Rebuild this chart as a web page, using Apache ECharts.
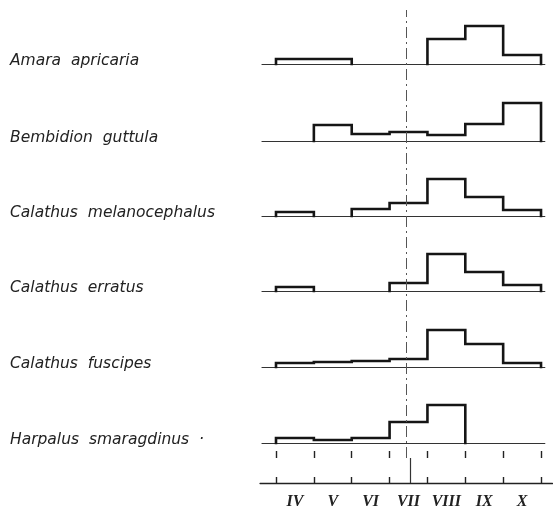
<!DOCTYPE html>
<html>
<head>
<meta charset="utf-8">
<script src="https://cdn.jsdelivr.net/npm/echarts@6/dist/echarts.min.js"></script>
<style>html,body{margin:0;padding:0;background:#fff}#c{width:553px;height:510px}</style>
</head>
<body>
<div id="c"></div>
<script>
// Month bins (April .. October)
const months = ['IV', 'V', 'VI', 'VII', 'VIII', 'IX', 'X'];
const species = ['Amara  apricaria', 'Bembidion  guttula', 'Calathus  melanocephalus',
                 'Calathus  erratus', 'Calathus  fuscipes', 'Harpalus  smaragdinus  ·'];
// Relative activity per month
const amara       = [5, 5, 0, 0, 25, 38, 9];
const bembidion   = [0, 16, 7, 9, 6, 17, 38];
const melanoceph  = [4, 0, 7, 13, 37, 19, 6];
const erratus     = [4, 0, 0, 8, 37, 19, 6];
const fuscipes    = [4, 5, 6, 8, 37, 23, 4];
const harpalus    = [5, 3, 5, 21, 38, 0, 0];
const refMonth = 3.45; // dashed reference line (mid July)

const rows = [amara, bembidion, melanoceph, erratus, fuscipes, harpalus];

// layout
const PX = 37.86, X0 = 276;
const baselines = [64, 141, 216, 291, 367, 443];
const rowMin = -0.37, rowMax = 7.1;
const botMin = -0.42, botMax = 7.3;
const H = 40;

// split a row into runs of non-zero months -> step outline points (data space)
function runs(vals) {
  const out = [];
  let cur = null;
  vals.forEach((v, i) => {
    if (v > 0) {
      if (!cur) { cur = [[i, 0]]; }
      cur.push([i, v], [i + 1, v]);
    } else if (cur) {
      cur.push([i, 0]); out.push(cur); cur = null;
    }
  });
  if (cur) { cur.push([vals.length, 0]); out.push(cur); }
  return out;
}

const grids = [], xAxes = [], yAxes = [], series = [], graphics = [];
rows.forEach((vals, r) => {
  grids.push({left: X0 + rowMin * PX, width: (rowMax - rowMin) * PX, top: baselines[r] - H, height: H});
  xAxes.push({type: 'value', gridIndex: r, min: rowMin, max: rowMax,
    axisLine: {show: true, onZero: false, lineStyle: {color: '#333', width: 1.2}},
    axisTick: {show: false}, axisLabel: {show: false}, splitLine: {show: false}});
  yAxes.push({type: 'value', gridIndex: r, min: 0, max: H, show: false, splitLine: {show: false}});
  const rr = runs(vals);
  series.push({type: 'custom', xAxisIndex: r, yAxisIndex: r, coordinateSystem: 'cartesian2d',
    data: rr.map((run, k) => [run[0][0], k]), silent: true, animation: false, clip: false,
    renderItem: function (params, api) {
      const run = rr[params.dataIndex];
      const pts = run.map(p => api.coord(p));
      return {type: 'polyline', shape: {points: pts},
        style: {stroke: '#151515', lineWidth: 2.6, fill: null, lineJoin: 'miter', lineCap: 'square'}};
    }});
  graphics.push({type: 'text', left: 10, top: baselines[r] - 3 - 8,
    style: {text: species[r], font: 'italic 15.5px "DejaVu Sans"', fill: '#222'}});
});

// bottom month axis
const B = rows.length;
grids.push({left: X0 + botMin * PX, width: (botMax - botMin) * PX, top: 458, height: 25});
const tickVals = months.map((m, i) => i).concat([months.length]);
const labVals = months.map((m, i) => i + 0.5);
xAxes.push({type: 'value', gridIndex: B, min: botMin, max: botMax,
  axisLine: {show: true, onZero: false, lineStyle: {color: '#222', width: 1.4}},
  axisTick: {show: true, inside: true, length: 6, customValues: tickVals, lineStyle: {color: '#222', width: 1.4}},
  axisLabel: {show: true, customValues: labVals, margin: 11,
    formatter: v => months[Math.floor(v)],
    fontFamily: 'Liberation Serif', fontStyle: 'italic', fontWeight: 'bold', fontSize: 16, color: '#222'},
  splitLine: {show: false}});
xAxes.push({type: 'value', gridIndex: B, min: botMin, max: botMax,
  axisLine: {show: false, onZero: false},
  axisTick: {show: true, inside: false, length: 7, customValues: tickVals, lineStyle: {color: '#222', width: 1.4}},
  axisLabel: {show: false}, splitLine: {show: false}});
yAxes.push({type: 'value', gridIndex: B, min: 0, max: 1, show: false, splitLine: {show: false}});
series.push({type: 'line', xAxisIndex: B, yAxisIndex: B, data: [[refMonth + 0.1, 0]], symbol: 'none',
  lineStyle: {opacity: 0}, silent: true, animation: false,
  markLine: {symbol: 'none', silent: true, label: {show: false}, animation: false,
    lineStyle: {color: '#333', width: 1.2, type: 'solid'}, data: [{xAxis: refMonth + 0.1}]}});

// dashed reference line overlay
const O = B + 1;
grids.push({left: X0 + rowMin * PX, width: (rowMax - rowMin) * PX, top: 10, height: 448});
xAxes.push({type: 'value', gridIndex: O, min: rowMin, max: rowMax, show: false, splitLine: {show: false}});
yAxes.push({type: 'value', gridIndex: O, min: 0, max: 1, show: false, splitLine: {show: false}});
series.push({type: 'line', xAxisIndex: B + 2, yAxisIndex: O, data: [[refMonth, 0]], symbol: 'none',
  lineStyle: {opacity: 0}, silent: true, animation: false,
  markLine: {symbol: 'none', silent: true, label: {show: false}, animation: false,
    lineStyle: {color: '#555', width: 1, type: [11, 4, 2, 4]}, data: [{xAxis: refMonth}]}});

const chart = echarts.init(document.getElementById('c'), null, {renderer: 'canvas'});
chart.setOption({animation: false, backgroundColor: '#fff', grid: grids, xAxis: xAxes, yAxis: yAxes,
  series: series, graphic: graphics});
</script>
</body>
</html>
